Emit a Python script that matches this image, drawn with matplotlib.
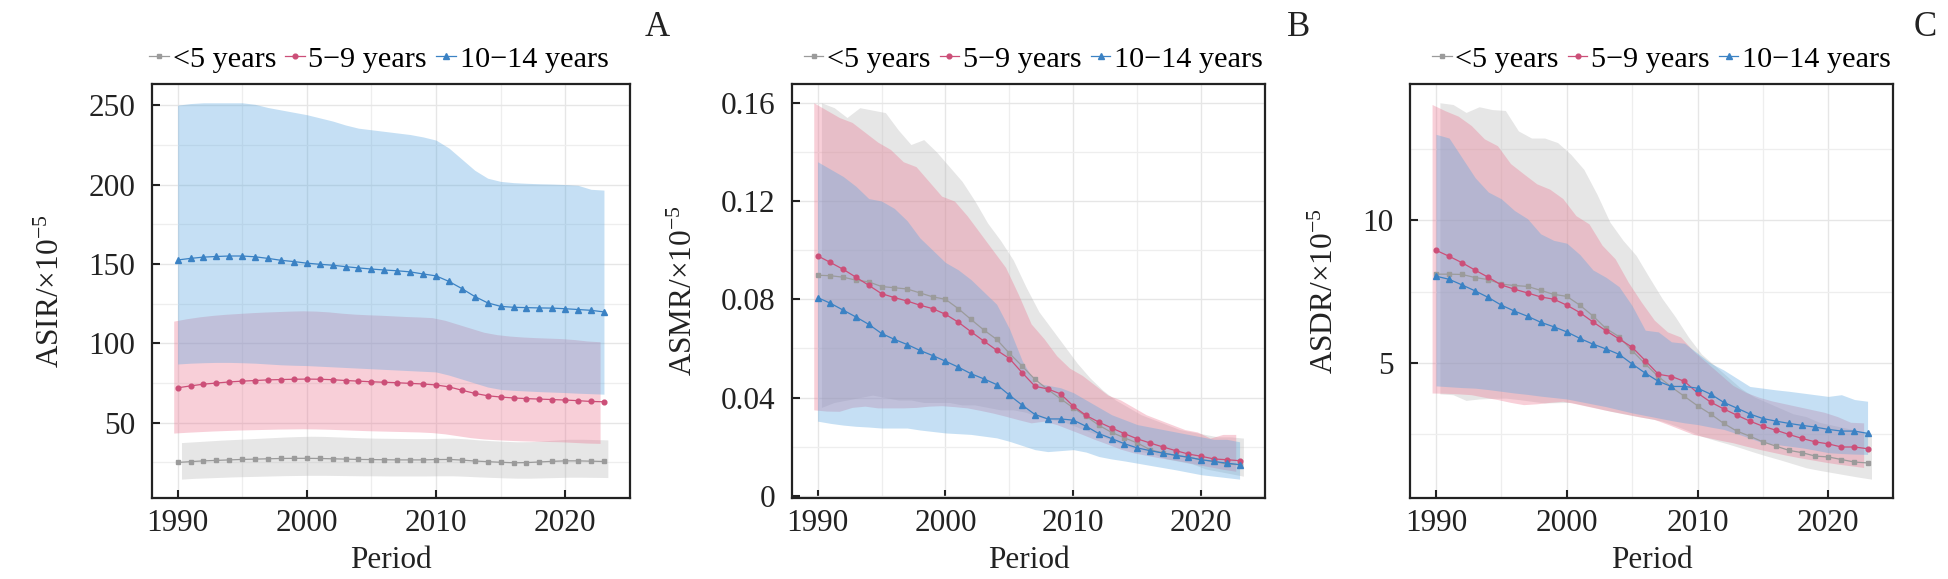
import numpy as np
import matplotlib
matplotlib.use('agg')
import matplotlib.pyplot as plt
from matplotlib.ticker import MultipleLocator, FuncFormatter

# ---- data ----
years = list(range(1990, 2024))
groups = ['<5 years', '5\u22129 years', '10\u221214 years']

# ASIR
asir_u5 = [25.0, 25.5, 26.0, 26.3, 26.6, 26.9, 27.1, 27.3, 27.5, 27.6, 27.6, 27.5, 27.3, 27.1, 26.9, 26.8, 26.7,
           26.6, 26.6, 26.6, 26.8, 26.9, 26.5, 25.9, 25.5, 25.1, 24.8, 24.9, 25.3, 25.7, 26.0, 26.0, 25.8, 25.6]
asir_u5_lo = [14.5, 15.0, 15.3, 15.6, 15.9, 16.1, 16.3, 16.5, 16.7, 16.8, 16.9, 16.9, 16.8, 16.7, 16.6, 16.6, 16.5,
              16.5, 16.5, 16.5, 16.6, 16.6, 16.3, 15.9, 15.6, 15.3, 15.1, 15.1, 15.3, 15.5, 15.7, 15.7, 15.6, 15.5]
asir_u5_hi = [37.5, 38.0, 38.5, 39.0, 39.4, 39.8, 40.2, 40.6, 41.0, 41.3, 41.5, 41.4, 41.1, 40.8, 40.5, 40.3, 40.2,
              40.1, 40.0, 40.0, 40.2, 40.3, 39.9, 39.2, 38.7, 38.3, 38.0, 38.1, 38.6, 39.1, 39.6, 39.6, 39.4, 39.2]
asir_59 = [72.0, 73.2, 74.3, 75.0, 75.7, 76.2, 76.6, 77.0, 77.2, 77.4, 77.5, 77.4, 77.1, 76.6, 76.2, 75.8, 75.5,
           75.2, 74.8, 74.4, 73.8, 72.6, 70.5, 68.5, 67.0, 66.2, 65.6, 65.2, 64.9, 64.6, 64.3, 63.9, 63.4, 63.2]
asir_59_lo = [43.5, 44.0, 44.4, 44.8, 45.1, 45.4, 45.6, 45.8, 46.0, 46.1, 46.2, 46.1, 45.9, 45.6, 45.3, 45.0, 44.8,
              44.6, 44.4, 44.2, 43.8, 43.0, 41.8, 40.6, 39.8, 39.3, 38.9, 38.6, 38.4, 38.2, 38.0, 37.6, 37.2, 37.0]
asir_59_hi = [114.0, 115.5, 116.7, 117.6, 118.3, 118.8, 119.3, 119.7, 120.0, 120.3, 120.5, 120.3, 119.8, 119.0,
              118.4, 118.0, 117.7, 117.3, 116.9, 116.6, 116.2, 114.5, 112.0, 109.5, 107.0, 105.5, 104.6, 104.0,
              103.6, 103.3, 103.0, 102.4, 101.5, 101.0]
asir_1014 = [152.5, 153.5, 154.3, 154.7, 155.0, 155.0, 154.5, 153.5, 152.3, 151.5, 150.5, 149.8, 149.2, 148.3,
             147.5, 146.8, 146.2, 145.7, 145.0, 143.7, 142.5, 139.0, 134.5, 129.5, 125.5, 123.3, 122.7, 122.5,
             122.3, 122.2, 121.8, 121.3, 120.8, 119.8]
asir_1014_lo = [87.0, 87.5, 87.8, 88.0, 88.0, 87.8, 87.5, 87.0, 86.5, 86.2, 86.0, 85.6, 85.2, 84.8, 84.4, 84.0,
                83.6, 83.2, 82.8, 82.4, 82.0, 80.0, 77.5, 75.0, 72.5, 71.0, 70.4, 70.0, 69.6, 69.3, 69.0, 68.6,
                68.3, 68.0]
asir_1014_hi = [250.0, 251.0, 251.5, 251.5, 251.5, 251.5, 250.5, 248.5, 247.0, 245.5, 244.0, 242.0, 240.0, 237.5,
                235.5, 234.5, 233.5, 232.5, 231.5, 230.0, 228.0, 223.0, 216.0, 209.0, 204.0, 202.0, 201.2, 200.8,
                200.5, 200.3, 200.0, 199.5, 197.0, 196.5]

# ASMR
asmr_u5 = [0.0898, 0.0896, 0.0890, 0.0878, 0.0871, 0.0852, 0.0847, 0.0842, 0.0826, 0.0810, 0.0800, 0.0762,
           0.0718, 0.0675, 0.0637, 0.0580, 0.0528, 0.0474, 0.0433, 0.0395, 0.0358, 0.0324, 0.0287, 0.0258,
           0.0236, 0.0215, 0.0188, 0.0174, 0.0165, 0.0157, 0.0147, 0.0140, 0.0129, 0.0127]
asmr_u5_lo = [0.036, 0.038, 0.039, 0.040, 0.041, 0.040, 0.039, 0.039, 0.038, 0.038, 0.038, 0.037, 0.037, 0.036,
              0.035, 0.035, 0.034, 0.032, 0.031, 0.030, 0.028, 0.026, 0.024, 0.022, 0.020, 0.018, 0.017, 0.015,
              0.014, 0.013, 0.011, 0.010, 0.009, 0.008]
asmr_u5_hi = [0.160, 0.158, 0.154, 0.158, 0.157, 0.156, 0.149, 0.143, 0.145, 0.140, 0.134, 0.128, 0.120, 0.111,
              0.104, 0.096, 0.085, 0.075, 0.068, 0.061, 0.054, 0.048, 0.043, 0.039, 0.036, 0.033, 0.031, 0.029,
              0.027, 0.026, 0.025, 0.024, 0.024, 0.0235]
asmr_59 = [0.0977, 0.0950, 0.0922, 0.0890, 0.0857, 0.0823, 0.0807, 0.0793, 0.0776, 0.0762, 0.0739, 0.0707,
           0.0668, 0.0630, 0.0593, 0.0559, 0.0501, 0.0446, 0.0435, 0.0415, 0.0365, 0.0327, 0.0300, 0.0276,
           0.0253, 0.0232, 0.0215, 0.0199, 0.0184, 0.0170, 0.0161, 0.0150, 0.0147, 0.0143]
asmr_59_lo = [0.035, 0.0345, 0.0344, 0.036, 0.0365, 0.0358, 0.0358, 0.0358, 0.036, 0.0365, 0.0367, 0.0363,
              0.0358, 0.0348, 0.0337, 0.0324, 0.031, 0.0297, 0.0304, 0.029, 0.027, 0.025, 0.0229, 0.021, 0.019,
              0.0175, 0.0165, 0.0155, 0.0147, 0.0138, 0.0127, 0.0118, 0.0108, 0.010]
asmr_59_hi = [0.160, 0.157, 0.154, 0.152, 0.148, 0.144, 0.141, 0.136, 0.134, 0.128, 0.122, 0.120, 0.114, 0.107,
              0.100, 0.093, 0.082, 0.070, 0.064, 0.057, 0.052, 0.049, 0.045, 0.041, 0.039, 0.036, 0.033, 0.031,
              0.029, 0.027, 0.026, 0.0235, 0.025, 0.025]
asmr_1014 = [0.0807, 0.0784, 0.0756, 0.0728, 0.0698, 0.0661, 0.0637, 0.0616, 0.0592, 0.0571, 0.0548, 0.0524,
             0.0497, 0.0476, 0.0453, 0.0410, 0.0369, 0.0331, 0.0313, 0.0313, 0.0308, 0.0283, 0.0253, 0.0233,
             0.0212, 0.0195, 0.0184, 0.0174, 0.0165, 0.0157, 0.0147, 0.0140, 0.0133, 0.0127]
asmr_1014_lo = [0.0304, 0.0295, 0.0288, 0.0283, 0.0280, 0.0276, 0.0276, 0.0276, 0.0268, 0.0262, 0.0256, 0.0253,
                0.0250, 0.0243, 0.0236, 0.0222, 0.0205, 0.0188, 0.0180, 0.0184, 0.0188, 0.0178, 0.0160, 0.0150,
                0.0142, 0.0133, 0.0124, 0.0115, 0.0106, 0.0096, 0.0086, 0.0080, 0.0074, 0.0068]
asmr_1014_hi = [0.136, 0.133, 0.130, 0.126, 0.121, 0.120, 0.117, 0.112, 0.105, 0.100, 0.095, 0.092, 0.088, 0.083,
                0.078, 0.068, 0.055, 0.046, 0.045, 0.044, 0.042, 0.039, 0.036, 0.033, 0.031, 0.029, 0.028, 0.027,
                0.026, 0.025, 0.024, 0.023, 0.023, 0.022]

# ASDR
asdr_u5 = [8.11, 8.11, 8.10, 7.99, 7.92, 7.76, 7.71, 7.68, 7.54, 7.40, 7.33, 7.02, 6.64, 6.20, 5.91, 5.42, 4.95,
           4.51, 4.14, 3.81, 3.48, 3.19, 2.86, 2.59, 2.41, 2.21, 2.06, 1.91, 1.83, 1.71, 1.68, 1.59, 1.50, 1.47]
asdr_u5_lo = [3.90, 3.87, 3.67, 3.72, 3.74, 3.75, 3.70, 3.64, 3.58, 3.59, 3.60, 3.50, 3.40, 3.29, 3.20, 3.11,
              3.03, 2.94, 2.78, 2.60, 2.41, 2.27, 2.14, 2.00, 1.85, 1.71, 1.58, 1.44, 1.30, 1.21, 1.13, 1.05,
              0.97, 0.90]
asdr_u5_hi = [14.14, 14.08, 13.80, 14.00, 13.90, 13.87, 13.15, 12.90, 12.90, 12.74, 12.33, 11.80, 10.93, 9.94,
              9.30, 8.77, 8.00, 7.25, 6.61, 5.90, 5.30, 4.90, 4.50, 4.10, 3.80, 3.60, 3.40, 3.20, 3.10, 2.90,
              2.80, 2.70, 2.60, 2.50]
asdr_59 = [8.95, 8.74, 8.51, 8.25, 8.00, 7.73, 7.58, 7.45, 7.31, 7.23, 7.02, 6.76, 6.43, 6.12, 5.83, 5.54, 5.07,
           4.59, 4.51, 4.34, 3.93, 3.61, 3.37, 3.15, 2.94, 2.76, 2.62, 2.47, 2.33, 2.21, 2.14, 2.03, 2.03, 1.97]
asdr_59_lo = [3.93, 3.92, 3.90, 3.87, 3.78, 3.70, 3.60, 3.52, 3.55, 3.60, 3.64, 3.55, 3.45, 3.35, 3.26, 3.17,
              3.08, 3.00, 2.83, 2.65, 2.47, 2.37, 2.27, 2.18, 2.06, 1.95, 1.85, 1.75, 1.66, 1.58, 1.50, 1.43,
              1.37, 1.31]
asdr_59_hi = [14.08, 13.86, 13.67, 13.34, 12.87, 12.63, 12.00, 11.64, 11.29, 11.10, 10.77, 10.17, 9.88, 9.13,
              8.65, 7.83, 7.13, 6.49, 6.08, 5.90, 5.40, 5.00, 4.60, 4.20, 3.95, 3.78, 3.65, 3.55, 3.45, 3.35,
              3.25, 3.10, 2.90, 2.88]
asdr_1014 = [8.04, 7.93, 7.73, 7.52, 7.29, 7.02, 6.81, 6.63, 6.42, 6.26, 6.08, 5.85, 5.65, 5.48, 5.29, 4.95, 4.63,
             4.34, 4.16, 4.16, 4.10, 3.89, 3.60, 3.40, 3.19, 3.03, 2.94, 2.86, 2.79, 2.73, 2.65, 2.59, 2.59, 2.51]
asdr_1014_lo = [4.18, 4.15, 4.12, 4.10, 4.05, 3.99, 3.93, 3.88, 3.82, 3.77, 3.72, 3.63, 3.54, 3.45, 3.34, 3.23,
                3.14, 3.05, 2.96, 2.88, 2.82, 2.73, 2.65, 2.50, 2.34, 2.18, 2.12, 2.06, 2.00, 1.92, 1.83, 1.80,
                1.78, 1.77]
asdr_1014_hi = [13.03, 12.90, 12.20, 11.50, 11.00, 10.76, 10.35, 10.06, 9.53, 9.30, 9.20, 8.80, 8.26, 8.00,
                7.67, 7.00, 6.14, 6.08, 5.73, 5.68, 5.33, 4.98, 4.74, 4.45, 4.16, 4.10, 4.04, 3.99, 3.93, 3.87,
                3.81, 3.87, 3.70, 3.64]

# ---- styling ----
plt.rcParams['font.family'] = ['Liberation Serif', 'DejaVu Serif']
plt.rcParams['mathtext.fontset'] = 'custom'
plt.rcParams['mathtext.rm'] = 'Liberation Serif'
plt.rcParams['mathtext.it'] = 'Liberation Serif:italic'
FS = 22.5

line_cols = ['#9b9b9b', '#cc4f78', '#3b82c4']
band_cols = ['#b8b8b8', '#eb7690', '#59a6e0']
markers = ['s', 'o', '^']
msizes = [3.2, 3.4, 4.0]
dodge = [0.3, -0.3, 0.0]


def draw_panel(ax, est, lo, hi, ylabel, major, minor, leg_x, fmt=None):
    x = np.array(years, dtype=float)
    for i in range(3):
        ax.fill_between(x + dodge[i], lo[i], hi[i], color=band_cols[i], alpha=0.35,
                        linewidth=0, zorder=2)
    for i in range(3):
        ax.plot(x, est[i], color=line_cols[i], lw=0.9, marker=markers[i], ms=msizes[i],
                mec=line_cols[i], mfc=line_cols[i], label=groups[i], zorder=3)

    ax.xaxis.set_major_locator(MultipleLocator(10))
    ax.xaxis.set_minor_locator(MultipleLocator(5))
    ax.yaxis.set_major_locator(MultipleLocator(major))
    ax.yaxis.set_minor_locator(MultipleLocator(minor))
    if fmt is not None:
        ax.yaxis.set_major_formatter(fmt)
    ax.margins(x=0.05, y=0.05)

    ax.grid(which='major', color='#e6e6e6', lw=1.0, zorder=0)
    ax.grid(which='minor', color='#eeeeee', lw=0.9, zorder=0)
    ax.set_axisbelow(True)
    for s in ax.spines.values():
        s.set_linewidth(1.6)
        s.set_color('#222222')
    ax.tick_params(which='major', direction='in', length=6, width=1.5, color='#222222',
                   labelsize=FS, labelcolor='#222222')
    ax.tick_params(axis='x', pad=8)
    ax.tick_params(axis='y', pad=12)
    ax.tick_params(which='minor', length=0)
    ax.tick_params(axis='x', top=False)
    ax.tick_params(axis='y', right=False)

    ax.set_xlabel('Period', fontsize=FS, color='#222222', labelpad=6)
    ax.set_ylabel(ylabel, fontsize=FS, color='#222222', labelpad=16)

    ax.legend(loc='center', bbox_to_anchor=(leg_x, 1.06), ncol=3, frameon=False, fontsize=21.8,
              handlelength=0.65, handletextpad=0.12, columnspacing=0.3, borderaxespad=0,
              borderpad=0)


fig = plt.figure(figsize=(19.49, 5.79), dpi=100)
ax_a = fig.add_axes([0.078, 0.140, 0.245, 0.715])
ax_b = fig.add_axes([0.4065, 0.140, 0.2425, 0.715])
ax_c = fig.add_axes([0.7235, 0.140, 0.248, 0.715])

draw_panel(ax_a, [asir_u5, asir_59, asir_1014], [asir_u5_lo, asir_59_lo, asir_1014_lo],
           [asir_u5_hi, asir_59_hi, asir_1014_hi], r'ASIR/$\times$10$^{-5}$', 50, 25, 0.475)
draw_panel(ax_b, [asmr_u5, asmr_59, asmr_1014], [asmr_u5_lo, asmr_59_lo, asmr_1014_lo],
           [asmr_u5_hi, asmr_59_hi, asmr_1014_hi], r'ASMR/$\times$10$^{-5}$', 0.04, 0.02, 0.51,
           FuncFormatter(lambda v, p: '0' if abs(v) < 1e-9 else f'{v:.2f}'))
draw_panel(ax_c, [asdr_u5, asdr_59, asdr_1014], [asdr_u5_lo, asdr_59_lo, asdr_1014_lo],
           [asdr_u5_hi, asdr_59_hi, asdr_1014_hi], r'ASDR/$\times$10$^{-5}$', 5, 2.5, 0.52)

for lab, xp in zip(['A', 'B', 'C'], [657, 1299, 1925]):
    fig.text(xp / 1949, 1 - 28 / 579, lab, fontsize=25, ha='center', va='center', color='#222222')

fig.savefig('out.png', dpi=100, facecolor='white')
